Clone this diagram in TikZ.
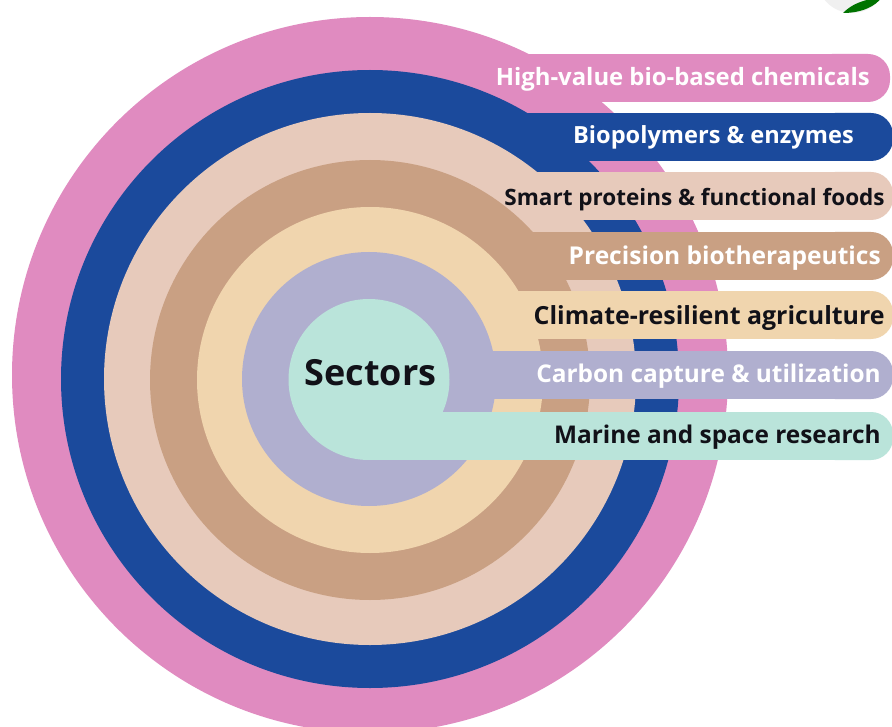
\documentclass[tikz,border=0pt]{standalone}
\usepackage{fontspec}
\setmainfont{Open Sans}
\definecolor{cpink}{HTML}{E08BC0}
\definecolor{cblue}{HTML}{1B4A9C}
\definecolor{cpeach}{HTML}{E7CABB}
\definecolor{ctan}{HTML}{C9A083}
\definecolor{ccream}{HTML}{F0D5AE}
\definecolor{clav}{HTML}{B0AFCF}
\definecolor{cteal}{HTML}{BAE4DA}
\definecolor{ctxt}{HTML}{111118}
\newcommand{\lblfont}[1]{\fontsize{#1}{#1}\selectfont\bfseries}
\newcommand{\barpath}[4]{%
  \fill[#1] (#2,#3) rectangle (#4-30,#3+48);
  \fill[#1,rounded corners=16.5pt] (#4-80,#3) rectangle (#4,#3+48);}
\tikzset{
  wlabel/.style={anchor=base east,inner sep=0pt,text=white},
  dlabel/.style={anchor=base east,inner sep=0pt,text=ctxt}
}
\begin{document}
\begin{tikzpicture}[x=0.75pt,y=-0.75pt]
\useasboundingbox (0,0) rectangle (892,727);
\begin{scope}
\clip (0,0) rectangle (892,727);
\fill[white] (0,0) rectangle (892,727);
% logo fragment
\fill[black!6] (852,-22) circle (35);
\fill[green!45!black] (843,13) .. controls (852,4) and (862,0) .. (882,-3) .. controls (876,6) and (862,13) .. (843,13) -- cycle;
% rings and bars
\fill[cpink] (370,375) circle (358);
\barpath{cpink}{370}{54}{890}
\fill[cblue] (370,379) circle (309);
\barpath{cblue}{370}{113}{893}
\fill[cpeach] (370,379) circle (266);
\barpath{cpeach}{370}{172}{893}
\fill[ctan] (370,380) circle (220);
\barpath{ctan}{370}{232}{893}
\fill[ccream] (370,380) circle (173);
\barpath{ccream}{370}{291}{893}
\fill[clav] (369,379) circle (127);
\barpath{clav}{369}{351}{893}
\fill[cteal] (369,379.5) circle (80.5);
\barpath{cteal}{369}{412}{893}
\end{scope}
\node[wlabel,font=\lblfont{17.9}] (n1) at (870,86) {High-value bio-based chemicals};
\node[wlabel,font=\lblfont{17.7}] (n2) at (854,144) {Biopolymers \& enzymes};
\node[dlabel,font=\lblfont{16.9}] (n3) at (885,206) {Smart proteins \& functional foods};
\node[wlabel,font=\lblfont{18.4}] (n4) at (881,265) {Precision biotherapeutics};
\node[dlabel,font=\lblfont{18.7}] (n5) at (885,324) {Climate-resilient agriculture};
\node[wlabel,font=\lblfont{18.3}] (n6) at (881,382) {Carbon capture \& utilization};
\node[dlabel,font=\lblfont{18.3}] (n7) at (881,443) {Marine and space research};
\node[anchor=base,inner sep=0pt,text=ctxt,font=\lblfont{27}] (s) at (370.5,385) {Sectors};
\end{tikzpicture}
\end{document}
